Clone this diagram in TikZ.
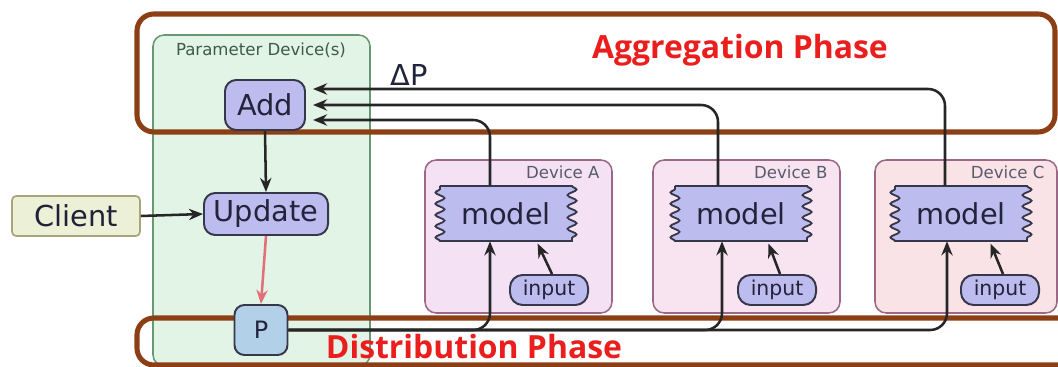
\documentclass[tikz,border=0pt]{standalone}
\usepackage{fontspec}
\setmainfont{DejaVu Sans}
\newfontfamily\phasefont{Open Sans}
\usetikzlibrary{arrows.meta,calc,fit,decorations.pathmorphing}

\definecolor{framebrown}{RGB}{140,62,20}
\definecolor{phasered}{RGB}{235,30,30}
\definecolor{paramfill}{RGB}{226,244,229}
\definecolor{paramline}{RGB}{105,150,115}
\definecolor{opfill}{RGB}{188,188,238}
\definecolor{pfill}{RGB}{178,208,232}
\definecolor{clientfill}{RGB}{236,240,214}
\definecolor{clientline}{RGB}{165,165,125}
\definecolor{devline}{RGB}{155,105,135}
\definecolor{devA}{RGB}{244,226,244}
\definecolor{devB}{RGB}{247,228,240}
\definecolor{devC}{RGB}{249,227,230}
\definecolor{boxline}{RGB}{55,55,75}
\definecolor{txt}{RGB}{35,35,60}
\definecolor{updline}{RGB}{225,110,120}

\tikzset{
	op/.style={draw=boxline, line width=1.4pt, fill=opfill, text=txt, rounded corners=8pt,
		font=\fontsize{20.5}{24}\selectfont, inner sep=0pt},
	client/.style={draw=clientline, line width=1.2pt, fill=clientfill, text=txt!90!black, rounded corners=3pt,
		font=\fontsize{20.5}{24}\selectfont, inner sep=0pt, minimum width=3.2cm, minimum height=1cm},
	inbox/.style={draw=boxline, line width=1.4pt, fill=opfill, text=txt, rounded corners=9pt,
		font=\fontsize{14.5}{17}\selectfont, inner sep=0pt, minimum width=1.95cm, minimum height=0.75cm},
	modeltext/.style={text=txt, font=\fontsize{20.5}{24}\selectfont, inner sep=0pt,
		minimum width=3.325cm, minimum height=1.375cm},
	modelline/.style={draw=boxline, line width=1.3pt, fill=opfill,
		decoration={snake, segment length=8pt, amplitude=3.2pt}},
	devbox/.style={draw=devline, line width=1.1pt, rounded corners=8pt, inner sep=0pt},
	devlabel/.style={text=txt!75, font=\fontsize{11.8}{14}\selectfont, inner sep=0pt},
	parambox/.style={draw=paramline, line width=1.1pt, fill=paramfill, rounded corners=8pt, inner sep=0pt},
	phase/.style={draw=framebrown, line width=3.6pt, rounded corners=12pt, inner sep=0pt},
	phasetext/.style={text=phasered, font=\phasefont\bfseries\fontsize{22.7}{27}\selectfont, inner sep=0pt},
	link/.style={draw=black!85, line width=1.8pt, -{Stealth[length=10pt,width=8pt]}},
}

\begin{document}
\begin{tikzpicture}[x=0.025cm, y=-0.025cm]
		\path[use as bounding box, fill=white] (0,0) rectangle (1058,367);

		\node[parambox, fit={(153,35) (370,366)}] (param) {};
		\node[devlabel, text=paramline!60!black] (paramlab) at (261,50) {Parameter Device(s)};

		\foreach \d/\l/\r/\x/\ix in {A/425/612/506/549, B/653/840/741/777, C/875/1057/961/1000}{
			\node[devbox, fill=dev\d, fit={(\l,160) (\r,313)}] (dev\d) {};
			\node[devlabel, anchor=north east] (lab\d) at ($(dev\d.north east)+(-13,6)$) {Device \d};
			\draw[modelline] (\x-66,186) -- (\x+66,186) decorate{-- (\x+66,241)} -- (\x-66,241) decorate{-- (\x-66,186)} -- cycle;
			\node[modeltext] (m\d) at (\x,213.5) {model};
			\node[inbox] (in\d) at (\ix,290) {input};
		}

		\node[phase, fit={(137,14) (1055,132)}] (agg) {};
		\node[phase, fit={(137,318) (1080,365)}] (dist) {};

		\node[op, minimum width=2cm, minimum height=1.25cm] (Add) at (265,105) {Add};
		\node[op, minimum width=3.1cm, minimum height=1.05cm] (Update) at (266,214) {Update};
		\node[op, fill=pfill, rounded corners=7pt, minimum width=1.325cm, minimum height=1.25cm,
			font=\fontsize{17}{20}\selectfont] (P) at (261,330) {P};
		\node[client] (Client) at (76,216) {Client};

		\node[text=txt, font=\fontsize{20.5}{24}\selectfont, inner sep=0pt] (dP) at (409,75) {ΔP};
		\node[phasetext] (aggtxt) at (740,50) {Aggregation Phase};
		\node[phasetext] (disttxt) at (474,347) {Distribution Phase};

		\draw[link] (Add.south) -- (Update.north);
		\draw[link] (Client.east) -- (Update.west);
		\draw[link, draw=updline] (Update.south) -- (P.north);

		\draw[link, rounded corners=12pt] ($(mA.north)+(-16,0)$) |- ($(Add.east)+(7,15)$);
		\draw[link, rounded corners=12pt] ($(mB.north)+(-23,0)$) |- ($(Add.east)+(7,0)$);
		\draw[link, rounded corners=12pt] ($(mC.north)+(-16,0)$) |- ($(Add.east)+(7,-16)$);

		\draw[link, rounded corners=12pt] (P.east) -| ($(mA.south)+(-16,0)$);
		\draw[link, rounded corners=12pt] (P.east) -| ($(mB.south)+(-19,0)$);
		\draw[link, rounded corners=12pt] (P.east) -| ($(mC.south)+(-14,0)$);

		\draw[link, shorten >=1pt] ($(inA.north)+(3,0)$) -- ($(mA.south)+(31,1)$);
		\draw[link, shorten >=1pt] ($(inB.north)+(3,0)$) -- ($(mB.south)+(27,1)$);
		\draw[link, shorten >=1pt] ($(inC.north)+(3,0)$) -- ($(mC.south)+(29,1)$);
	\end{tikzpicture}
\end{document}
